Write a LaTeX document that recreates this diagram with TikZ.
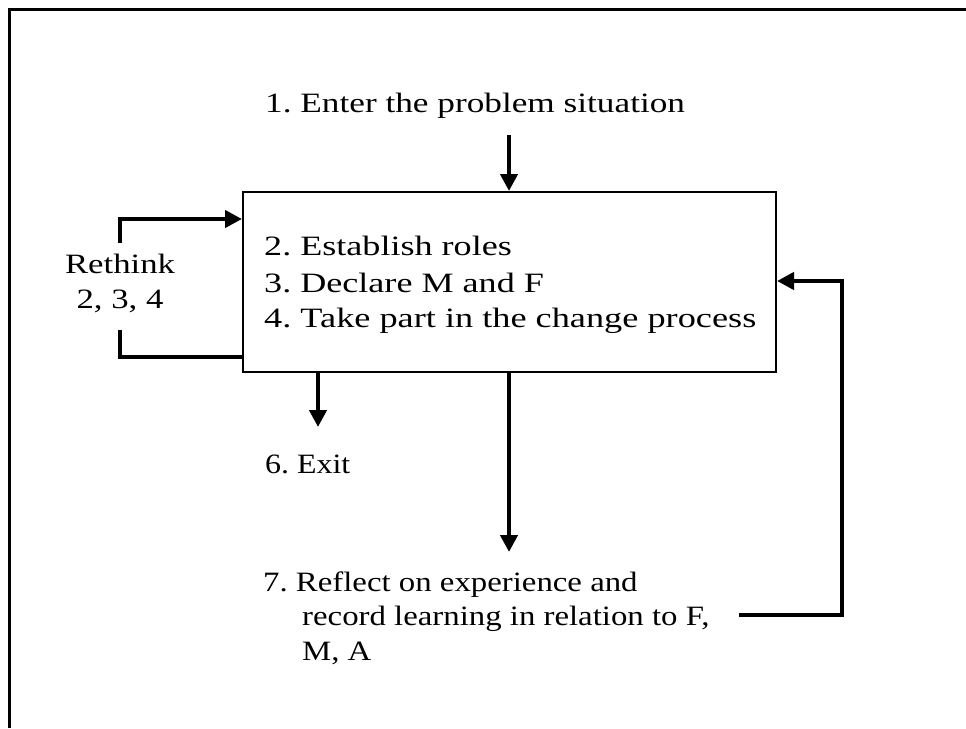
\documentclass[tikz,border=0pt]{standalone}
\usepackage{graphicx}
\usepackage{fontspec}
\setmainfont{Liberation Serif}[FakeStretch=1.24]
\usetikzlibrary{arrows.meta}
\frenchspacing
\newcommand{\wide}[2]{\scalebox{#1}[1]{#2}}
\begin{document}
\begin{tikzpicture}[x=1pt,y=-1pt,
  lbl/.style={inner sep=0pt,anchor=base west,font=\fontsize{28}{36}\selectfont},
  flow/.style={line width=4.2pt},
  arr/.style={flow,-{Triangle[length=17pt,width=17pt]}},
  stepbox/.style={draw,line width=2pt,rectangle,inner sep=0pt,anchor=north west,minimum width=533pt,minimum height=180pt}]
\useasboundingbox (0,0) rectangle (966,728);
% outer frame (top and left edges)
\draw[line width=3pt] (9,728) -- (9,9) -- (966,9);
% main step box
\node[stepbox] (box) at (242,191) {};
% labels
\node[lbl] (t1) at (265,112) {\wide{1.015}{1. Enter the problem situation}};
\node[lbl] (t2) at (264,255) {\wide{1.04}{2. Establish roles}};
\node[lbl] (t3) at (264,292) {\wide{1.04}{3. Declare M and F}};
\node[lbl] (t4) at (264,327) {\wide{1.045}{4. Take part in the change process}};
\node[lbl,anchor=base] (rt1) at (120,273) {Rethink};
\node[lbl,anchor=base] (rt2) at (120,308) {2, 3, 4};
\node[lbl] (t6) at (265,473) {\wide{0.92}{6. Exit}};
\node[lbl] (t7a) at (263,591) {\wide{0.945}{7. Reflect on experience and}};
\node[lbl] (t7b) at (302,625) {\wide{0.945}{record learning in relation to F,}};
\node[lbl] (t7c) at (302,660) {\wide{0.945}{M, A}};
% connector end points
\coordinate (in) at (509,135);
\coordinate (rtop) at (120,243);
\coordinate (rbot) at (120,330);
\coordinate (ex) at (318,427);
\coordinate (r7) at (509,552);
\coordinate (fb) at (739,615);
\coordinate (fbc) at (842,615);
% connectors
\draw[arr] (in) -- (in |- box.north);
\draw[arr] (rtop) -- (120,219) -- (box.west |- 0,219);
\draw[flow] (rbot) -- (120,357) -- (box.west |- 0,357);
\draw[arr] (ex |- box.south) -- (ex);
\draw[arr] (r7 |- box.south) -- (r7);
\draw[arr] (fb) -- (fbc) -- (842,281) -- (box.east |- 0,281);
\end{tikzpicture}
\end{document}
